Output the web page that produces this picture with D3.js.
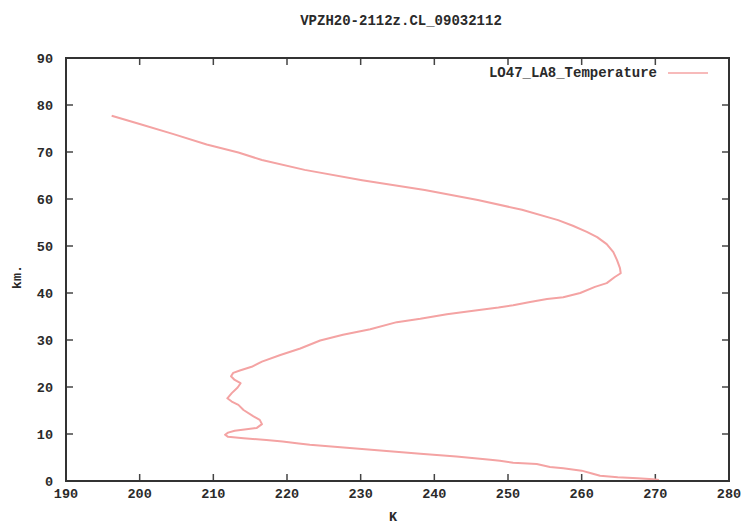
<!DOCTYPE html>
<html><head><meta charset="utf-8">
<script src="https://cdn.jsdelivr.net/npm/d3@7"></script>
<style>body{margin:0;background:#fff}svg{display:block}</style>
</head><body>
<svg id="chart" width="750" height="525"></svg>
<script>
const title = "VPZH20-2112z.CL_09032112";
const seriesName = "LO47_LA8_Temperature";
const xLabel = "K";
const yLabel = "km.";
const xTicks = [190,200,210,220,230,240,250,260,270,280];
const yTicks = [0,10,20,30,40,50,60,70,80,90];
const altitude = [0.2,0.35,0.6,0.8,1.1,1.6,2.2,2.7,3.0,3.6,3.9,4.3,4.5,5.2,5.8,6.45,7.1,7.7,8.0,8.4,8.7,9.1,9.4,9.85,10.3,10.7,11.0,11.3,12.1,13.0,13.8,15.1,16.2,16.9,17.6,18.7,19.9,20.8,21.5,22.3,23.0,23.5,24.3,25.4,26.8,28.2,29.9,31.1,32.3,33.8,34.5,35.5,36.2,36.9,37.4,38.1,38.7,39.1,40.0,41.3,42.1,43.4,44.2,45.3,47.0,48.7,50.4,51.9,53.0,54.3,55.5,57.7,59.8,61.9,64.0,66.2,68.3,69.9,71.6,73.8,75.96,77.7];
const temperature = [270.5,269.7,267.6,264.9,262.5,261.4,260.0,257.5,255.7,253.9,250.7,248.9,247.6,243.0,238.1,233.1,228.1,223.1,221.6,219.4,217.2,214.1,212.0,211.6,212.0,212.9,214.5,215.9,216.6,216.3,215.4,214.1,213.4,212.5,211.9,212.5,213.3,213.7,212.9,212.4,212.7,213.6,215.2,216.6,219.1,221.8,224.5,227.6,231.3,234.9,238.1,241.7,245.3,248.7,250.7,253.0,255.3,257.5,259.8,261.8,263.4,264.5,265.3,265.2,264.8,264.3,263.4,262.1,260.7,258.8,256.8,251.9,245.9,238.7,230.2,222.4,216.6,213.4,209.1,204.6,200.0,196.2];

const L = 66, R = 729, T = 58, B = 481;
const svg = d3.select("#chart");
const font = "'Liberation Mono', 'DejaVu Sans Mono', monospace";
const textColor = "#2a2a2a";
const x = d3.scaleLinear().domain([190,280]).range([L,R]);
const y = d3.scaleLinear().domain([0,90]).range([B,T]);

// ticks (inward, mirrored)
const tickG = svg.append("g").attr("stroke","#444").attr("stroke-width",1.5);
xTicks.forEach(v => {
  tickG.append("line").attr("x1",x(v)).attr("x2",x(v)).attr("y1",B).attr("y2",B-7);
  tickG.append("line").attr("x1",x(v)).attr("x2",x(v)).attr("y1",T).attr("y2",T+7);
});
yTicks.forEach(v => {
  tickG.append("line").attr("x1",L).attr("x2",L+7).attr("y1",y(v)).attr("y2",y(v));
  tickG.append("line").attr("x1",R).attr("x2",R-7).attr("y1",y(v)).attr("y2",y(v));
});

// tick labels
svg.append("g").selectAll("text").data(xTicks).join("text")
  .attr("x",d=>x(d)).attr("y",B+17).attr("text-anchor","middle")
  .attr("font-family",font).attr("font-weight","bold").attr("font-size",13.5).attr("fill",textColor)
  .text(d=>d);
svg.append("g").selectAll("text").data(yTicks).join("text")
  .attr("x",L-13).attr("y",d=>y(d)+4.5).attr("text-anchor","end")
  .attr("font-family",font).attr("font-weight","bold").attr("font-size",13.5).attr("fill",textColor)
  .text(d=>d);

// curve
const pts = altitude.map((a,i)=>[temperature[i],a]);
svg.append("path").datum(pts)
  .attr("d", d3.line().x(d=>x(d[0])).y(d=>y(d[1])))
  .attr("fill","none").attr("stroke","#f4a3a3").attr("stroke-width",2)
  .attr("stroke-linejoin","round");

// frame
svg.append("rect").attr("x",L).attr("y",T).attr("width",R-L).attr("height",B-T)
  .attr("fill","none").attr("stroke","#333").attr("stroke-width",2);

// title
svg.append("text").attr("x",401).attr("y",25).attr("text-anchor","middle")
  .attr("font-family",font).attr("font-weight","bold").attr("font-size",14).attr("fill",textColor)
  .text(title);

// legend
svg.append("text").attr("x",657).attr("y",77).attr("text-anchor","end")
  .attr("font-family",font).attr("font-weight","bold").attr("font-size",14).attr("fill",textColor)
  .text(seriesName);
svg.append("line").attr("x1",668).attr("x2",708).attr("y1",73).attr("y2",73)
  .attr("stroke","#f4a3a3").attr("stroke-width",1.5);

// axis labels
svg.append("text").attr("x",393).attr("y",521).attr("text-anchor","middle")
  .attr("font-family",font).attr("font-weight","bold").attr("font-size",13.5).attr("fill",textColor)
  .text(xLabel);
svg.append("text").attr("transform","translate(21,277) rotate(-90)").attr("text-anchor","middle")
  .attr("font-family",font).attr("font-weight","bold").attr("font-size",13.5).attr("fill",textColor)
  .text(yLabel);
</script>
</body></html>
